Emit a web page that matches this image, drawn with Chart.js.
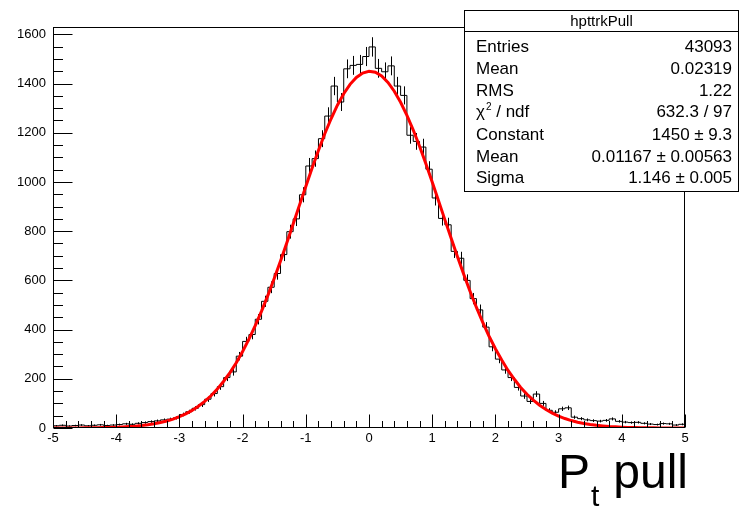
<!DOCTYPE html>
<html><head><meta charset="utf-8">
<script src="https://cdn.jsdelivr.net/npm/chart.js@4.4.1/dist/chart.umd.min.js"></script>
<style>html,body{margin:0;padding:0;background:#fff;}canvas{display:block;}</style>
</head><body>
<canvas id="c" width="741" height="509"></canvas>
<script>
// ---- data ----
const binEdges = [-5.0,-4.9,-4.8,-4.7,-4.6,-4.5,-4.4,-4.3,-4.2,-4.1,
  -4.0,-3.9,-3.8,-3.7,-3.6,-3.5,-3.4,-3.3,-3.2,-3.1,
  -3.0,-2.9,-2.8,-2.7,-2.6,-2.5,-2.4,-2.3,-2.2,-2.1,
  -2.0,-1.9,-1.8,-1.7,-1.6,-1.5,-1.4,-1.3,-1.2,-1.1,
  -1.0,-0.9,-0.8,-0.7,-0.6,-0.5,-0.4,-0.3,-0.2,-0.1,
  0.0,0.1,0.2,0.3,0.4,0.5,0.6,0.7,0.8,0.9,
  1.0,1.1,1.2,1.3,1.4,1.5,1.6,1.7,1.8,1.9,
  2.0,2.1,2.2,2.3,2.4,2.5,2.6,2.7,2.8,2.9,
  3.0,3.1,3.2,3.3,3.4,3.5,3.6,3.7,3.8,3.9,
  4.0,4.1,4.2,4.3,4.4,4.5,4.6,4.7,4.8,4.9,5.0];
const counts = [9,11,8,10,12,9,11,13,10,12,
  14,17,15,19,22,26,29,33,36,41,
  55,66,80,95,117,140,168,205,228,292,
  352,380,442,515,572,628,705,798,850,948,
  1065,1095,1176,1268,1390,1325,1460,1474,1478,1510,
  1549,1462,1448,1472,1390,1352,1190,1165,1142,1052,
  935,852,826,718,690,600,526,480,410,330,
  280,236,205,165,130,108,138,100,72,64,
  78,82,44,38,33,30,28,31,37,27,
  24,22,23,19,16,14,18,17,12,15];
const fitValues = [0.1,0.15,0.22,0.31,0.44,0.63,0.88,1.2,1.7,2.3,
  3.2,4.3,5.7,7.6,10.1,13.3,17.3,22.3,28.6,36.3,
  45.9,57.5,71.5,88.2,108,131,158,190,225,265,
  311,361,416,475,539,608,679,753,829,906,
  982,1057,1128,1196,1257,1312,1359,1397,1425,1443,
  1450,1446,1431,1405,1369,1324,1271,1211,1145,1074,
  1000,924,847,771,696,624,555,490,429,373,
  322,276,234,198,165,137,113,92.5,75.1,60.5,
  48.4,38.4,30.2,23.6,18.3,14.1,10.8,8.2,6.1,4.6,
  3.4,2.5,1.8,1.3,0.95,0.68,0.48,0.34,0.23,0.16,0.11];
const xTickLabels = [-5,-4,-3,-2,-1,0,1,2,3,4,5];
const yTickLabels = [0,200,400,600,800,1000,1200,1400,1600];
const statsTitle = 'hpttrkPull';
const statsNames = ['Entries','Mean','RMS','χ^2 / ndf','Constant','Mean','Sigma'];
const statsValues = ['43093','0.02319','1.22','632.3 / 97','1450 ± 9.3','0.01167 ± 0.00563','1.146 ± 0.005'];
const axisTitleMain = 'P', axisTitleSub = 't', axisTitleRest = 'pull';

const FONT = '"Liberation Sans", Arial, Helvetica, sans-serif';

const histPoints = binEdges.map((x, i) => ({x, y: counts[Math.min(i, counts.length - 1)]}));
const fitPoints = binEdges.map((x, i) => ({x, y: fitValues[i]}));

const rootPlugin = {
  id: 'rootStyle',
  beforeDatasetsDraw(chart) {
    const {ctx, scales: {x, y}, chartArea: a} = chart;
    ctx.save();
    ctx.beginPath(); ctx.rect(a.left, a.top, a.right - a.left, a.bottom - a.top); ctx.clip();
    ctx.strokeStyle = '#000'; ctx.lineWidth = 1;
    ctx.beginPath();
    for (let i = 0; i < counts.length; i++) {
      const xc = x.getPixelForValue((binEdges[i] + binEdges[i + 1]) / 2);
      const e = Math.sqrt(counts[i]);
      const px = Math.round(xc) + 0.5;
      ctx.moveTo(px, y.getPixelForValue(counts[i] - e));
      ctx.lineTo(px, y.getPixelForValue(counts[i] + e));
    }
    ctx.stroke();
    ctx.restore();
  },
  afterDraw(chart) {
    const {ctx, scales: {x, y}, chartArea: a} = chart;
    ctx.save();
    ctx.strokeStyle = '#000'; ctx.lineWidth = 1;
    const L = Math.round(a.left) + 0.5, R = Math.round(a.right) - 0.5;
    const T = Math.round(a.top) + 0.5, B = Math.round(a.bottom) - 0.5;
    ctx.strokeRect(L, T, R - L, B - T);
    // x ticks (inside)
    ctx.beginPath();
    const xMin = xTickLabels[0], xMax = xTickLabels[xTickLabels.length - 1];
    const nx = Math.round((xMax - xMin) / 0.2);
    for (let k = 0; k <= nx; k++) {
      const v = xMin + k * 0.2;
      const px = Math.round(x.getPixelForValue(v)) + 0.5;
      const len = (k % 5 === 0) ? 13 : 6.5;
      ctx.moveTo(px, B); ctx.lineTo(px, B - len);
    }
    // y ticks (inside)
    for (let k = 0; k * 50 <= y.max; k++) {
      const v = k * 50;
      const py = Math.round(y.getPixelForValue(v)) + 0.5;
      const len = (k % 4 === 0) ? 19 : 9.5;
      ctx.moveTo(L, py); ctx.lineTo(L + len, py);
    }
    ctx.stroke();

    // stats box
    const bx = 464.5, by = 10.5, bw = 274, bh = 181;
    ctx.fillStyle = '#fff';
    ctx.fillRect(bx, by, bw, bh);
    ctx.strokeRect(bx, by, bw, bh);
    ctx.beginPath(); ctx.moveTo(bx, 31.5); ctx.lineTo(bx + bw, 31.5); ctx.stroke();
    ctx.fillStyle = '#000';
    ctx.font = `15px ${FONT}`;
    ctx.textAlign = 'center'; ctx.textBaseline = 'alphabetic';
    ctx.fillText(statsTitle, bx + bw / 2, 26);
    ctx.font = `17px ${FONT}`;
    const rowY = [52, 74, 95.5, 117, 139.5, 161.5, 183];
    statsNames.forEach((name, i) => {
      ctx.textAlign = 'left';
      const yy = rowY[i];
      if (name.includes('^')) {
        const [pre, rest] = name.split('^');
        ctx.font = `17px ${FONT}`;
        ctx.fillText(pre, 476, yy);
        let w = ctx.measureText(pre).width;
        ctx.font = `10px ${FONT}`;
        ctx.fillText(rest[0], 476 + w + 1, yy - 7);
        const w2 = ctx.measureText(rest[0]).width;
        ctx.font = `17px ${FONT}`;
        ctx.fillText(rest.slice(1), 476 + w + 1 + w2, yy);
      } else {
        ctx.fillText(name, 476, yy);
      }
      ctx.textAlign = 'right';
      ctx.fillText(statsValues[i], 732, yy);
    });

    // axis title
    ctx.textAlign = 'left';
    ctx.font = `48px ${FONT}`;
    ctx.fillText(axisTitleMain, 558, 488);
    ctx.font = `30px ${FONT}`;
    ctx.fillText(axisTitleSub, 591, 506);
    ctx.textAlign = 'right';
    ctx.font = `48px ${FONT}`;
    ctx.fillText(axisTitleRest, 688, 488);
    ctx.restore();
  }
};

new Chart(document.getElementById('c'), {
  type: 'line',
  data: {
    datasets: [
      {
        label: 'fit', data: fitPoints, borderColor: '#ff0000', borderWidth: 3,
        pointRadius: 0, tension: 0, fill: false, order: 0
      },
      {
        label: statsTitle, data: histPoints, borderColor: '#000', borderWidth: 1,
        pointRadius: 0, stepped: 'before', fill: false, order: 1
      }
    ]
  },
  options: {
    responsive: false,
    animation: false,
    devicePixelRatio: 1,
    layout: {padding: {left: 0, right: 56, top: 27, bottom: 0}},
    plugins: {legend: {display: false}, tooltip: {enabled: false}, title: {display: false}},
    scales: {
      x: {
        type: 'linear', min: -5, max: 5,
        grid: {display: false, drawTicks: false}, border: {display: false},
        afterBuildTicks: s => { s.ticks = xTickLabels.map(v => ({value: v})); },
        afterFit: s => { s.height = 81; },
        ticks: {color: '#000', font: {family: FONT, size: 13}, padding: 3, maxRotation: 0, autoSkip: false,
          callback: v => String(v)}
      },
      y: {
        type: 'linear', min: 0, max: 1630,
        grid: {display: false, drawTicks: false}, border: {display: false},
        afterBuildTicks: s => { s.ticks = yTickLabels.map(v => ({value: v})); },
        afterFit: s => { s.width = 53; },
        ticks: {color: '#000', font: {family: FONT, size: 13}, padding: 7, autoSkip: false,
          callback: v => String(v)}
      }
    }
  },
  plugins: [rootPlugin]
});
</script>
</body></html>
